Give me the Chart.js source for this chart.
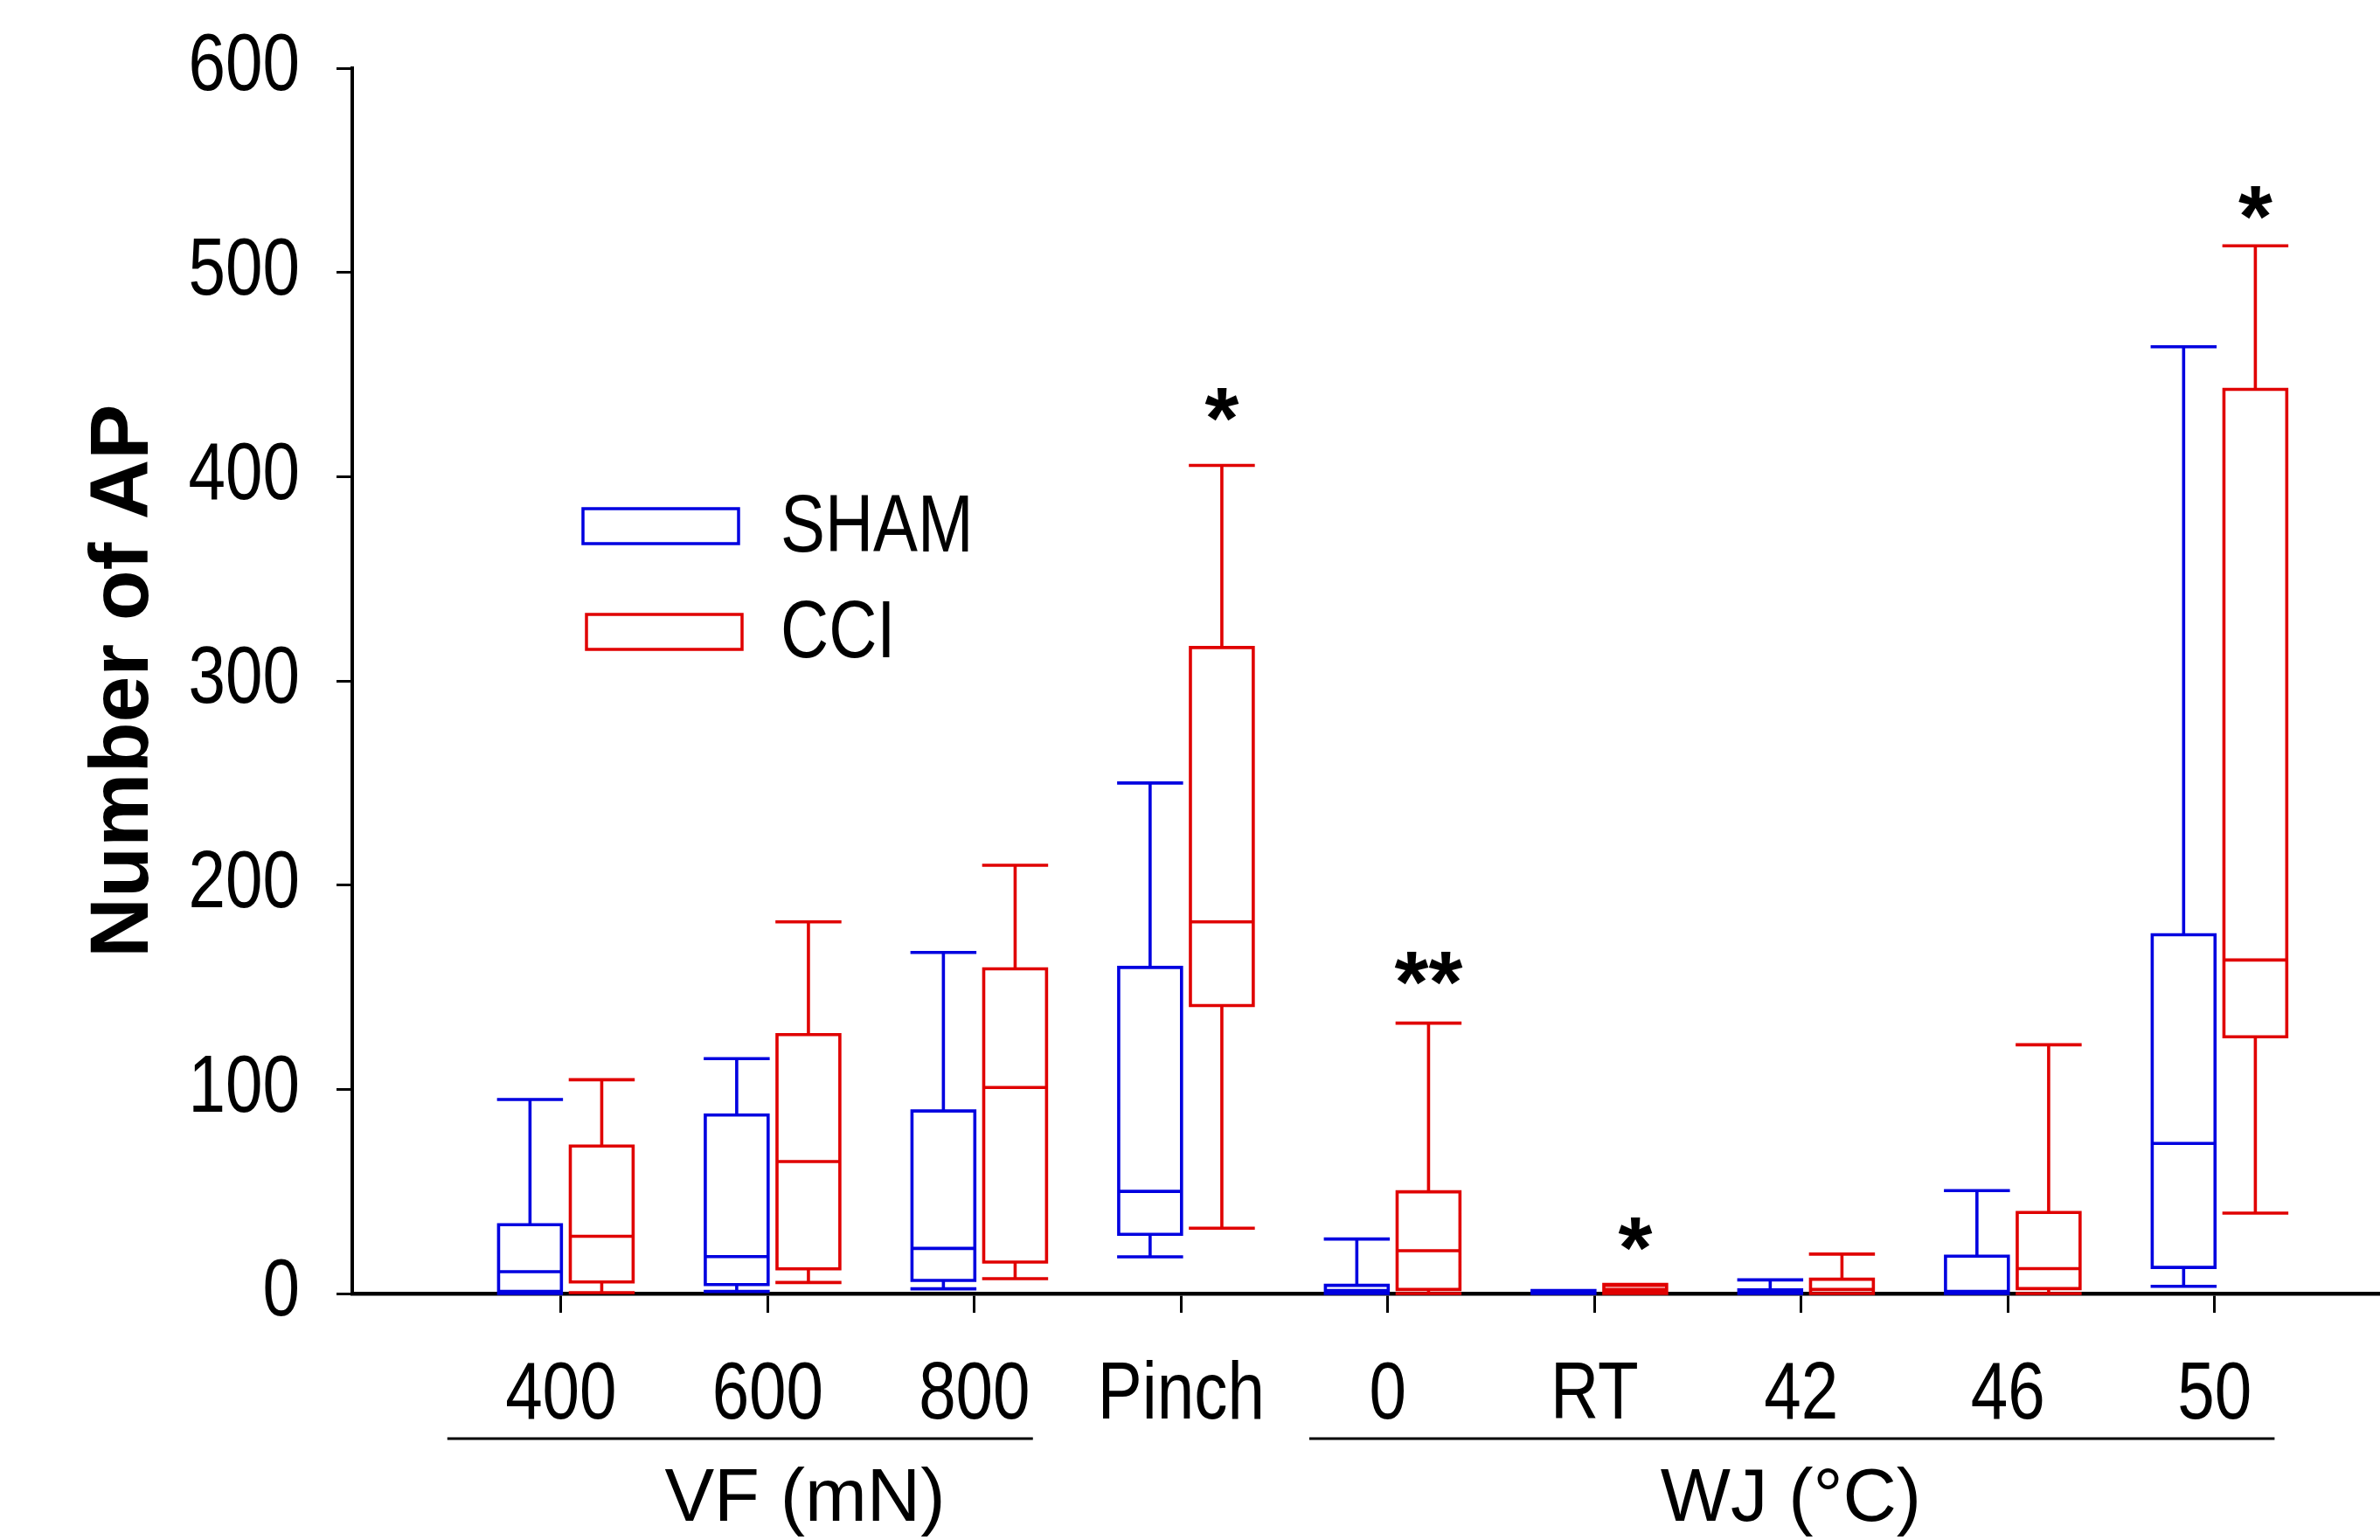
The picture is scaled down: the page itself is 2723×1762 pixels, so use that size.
<!DOCTYPE html>
<html><head><meta charset="utf-8">
<script src="https://cdn.jsdelivr.net/npm/chart.js@4.4.0/dist/chart.umd.min.js"></script>
<style>html,body{margin:0;padding:0;background:#fff;}#wrap{width:2723px;height:1762px;position:relative;}</style>
</head><body><div id="wrap"><canvas id="c" width="2723" height="1762"></canvas></div>
<script>
// ---- data ----
const categories = ['400','600','800','Pinch','0','RT','42','46','50'];
const seriesNames = ['SHAM','CCI'];
const shamMin    = [0,    1,     2.3,  18,    0,    0,   0,   0,    3.5];
const shamQ1     = [1,    4.4,   6.4,  29,    0,    0,   0,   0,    12.8];
const shamMedian = [10.7, 18.1,  22.1, 50,    1.5,  0.5, 1,   1,    73.5];
const shamQ3     = [33.7, 87.4,  89.4, 159.7, 4,    1,   1.8, 18.3, 175.7];
const shamMax    = [95,   115,   167,  250,   26.7, 1.5, 6.7, 50.4, 463.6];
const cciMin     = [0.4,  5.4,   7.3,  32,    0,    0,   0,   0,    39.4];
const cciQ1      = [5.7,  12.1,  15.4, 141,   2,    0.5, 0,   2.4,  125.7];
const cciMedian  = [28,   64.6,  100.9,182,   21,   2,   2,   12.2, 163.3];
const cciQ3      = [72.2, 126.8, 159,  316.3, 49.8, 4,   7,   39.7, 442.7];
const cciMax     = [104.7,182,   209.7,405.5, 132.4,4.5, 19.3,121.8,513];
const sigIndex = [3, 4, 5, 8];
const sigText  = ['*', '**', '*', '*'];
const sigLevel = [434, 158, 28, 533];
const groupNames = ['VF (mN)', 'WJ (\u00B0C)'];
const yTicks = [0, 100, 200, 300, 400, 500, 600];

// ---- styling ----
const BLUE = '#0000e0', RED = '#e00000';
const NARROW = "'Liberation Sans Narrow', 'Liberation Sans', Arial, sans-serif";
const SANS = "'Liberation Sans', Arial, sans-serif";
const HW = 0.152;           // half box width in category units
const OFFS = [-0.150, 0.197];

// emulate a narrow face (Arial Narrow is not installed): squeeze text set in the "Narrow" family
(function () {
  const P = CanvasRenderingContext2D.prototype, orig = P.fillText;
  P.fillText = function (t, x, y, mw) {
    if (String(this.font).indexOf('Narrow') >= 0) {
      const w = this.measureText(t).width * 0.83;
      mw = (mw === undefined || mw === null) ? w : Math.min(mw, w);
    }
    return (mw === undefined || mw === null) ? orig.call(this, t, x, y) : orig.call(this, t, x, y, mw);
  };
})();

function boxPoints(mins, q1s, meds, q3s, maxs, off) {
  const pts = [];
  const gap = (x) => pts.push({x: x, y: null});
  categories.forEach((c, i) => {
    const cx = i + off, l = cx - HW, r = cx + HW;
    pts.push({x:l,y:q1s[i]},{x:r,y:q1s[i]},{x:r,y:q3s[i]},{x:l,y:q3s[i]},{x:l,y:q1s[i]}); gap(l);
    pts.push({x:l,y:meds[i]},{x:r,y:meds[i]}); gap(r);
    pts.push({x:cx,y:q3s[i]},{x:cx,y:maxs[i]}); gap(cx);
    pts.push({x:l,y:maxs[i]},{x:r,y:maxs[i]}); gap(r);
    pts.push({x:cx,y:q1s[i]},{x:cx,y:mins[i]}); gap(cx);
    pts.push({x:l,y:mins[i]},{x:r,y:mins[i]}); gap(r);
  });
  return pts;
}

const datasets = [
  {label: seriesNames[0], data: boxPoints(shamMin, shamQ1, shamMedian, shamQ3, shamMax, OFFS[0]), borderColor: BLUE},
  {label: seriesNames[1], data: boxPoints(cciMin, cciQ1, cciMedian, cciQ3, cciMax, OFFS[1]), borderColor: RED}
].map(d => Object.assign(d, {borderWidth: 3.6, pointRadius: 0, tension: 0, spanGaps: false, fill: false, clip: false, borderJoinStyle: 'miter', borderCapStyle: 'square'}));

const annot = {
  id: 'annot',
  afterDraw(chart) {
    const {ctx} = chart; const x = chart.scales.x, y = chart.scales.y;
    ctx.save();
    ctx.fillStyle = '#000';
    // significance stars
    ctx.font = 'bold 100px ' + SANS; ctx.textAlign = 'center'; ctx.textBaseline = 'alphabetic';
    sigIndex.forEach((i, k) => {
      ctx.fillText(sigText[k], x.getPixelForValue(i + OFFS[1]), y.getPixelForValue(sigLevel[k]) + 47);
    });
    // group lines and labels
    ctx.strokeStyle = '#000'; ctx.lineWidth = 3;
    const groups = [[-0.55, 2.283, 1.18], [3.62, 8.29, 5.95]];
    groups.forEach((g, k) => {
      ctx.beginPath(); ctx.moveTo(x.getPixelForValue(g[0]), 1646); ctx.lineTo(x.getPixelForValue(g[1]), 1646); ctx.stroke();
      ctx.font = '85px ' + SANS; ctx.textAlign = 'center'; ctx.textBaseline = 'alphabetic';
      ctx.fillText(groupNames[k], x.getPixelForValue(g[2]), 1740);
    });
    // legend
    const leg = [[667, 582, BLUE, 606], [671, 703, RED, 727]];
    leg.forEach((L, k) => {
      ctx.strokeStyle = L[2]; ctx.lineWidth = 3.5; ctx.strokeRect(L[0], L[1], 178, 40);
      ctx.fillStyle = '#000'; ctx.font = '92px ' + NARROW; ctx.textAlign = 'left'; ctx.textBaseline = 'middle';
      ctx.fillText(seriesNames[k], 893, L[3]);
    });
    ctx.restore();
  }
};

new Chart(document.getElementById('c'), {
  type: 'line',
  data: {datasets},
  options: {
    responsive: false, animation: false, devicePixelRatio: 1,
    layout: {padding: {top: 78, left: 0, right: 0, bottom: 0}},
    plugins: {legend: {display: false}, tooltip: {enabled: false}},
    scales: {
      x: {
        type: 'linear', min: -1.01, max: 8.8,
        afterBuildTicks: s => { s.ticks = categories.map((_, i) => ({value: i})); },
        afterFit: s => { s.height = 282; s.paddingLeft = 0; s.paddingRight = 0; },
        grid: {drawOnChartArea: false, drawTicks: true, tickLength: 22, tickWidth: 3, tickColor: '#000'},
        border: {display: true, color: '#000', width: 4.5},
        ticks: {callback: v => categories[v] ?? '', autoSkip: false, maxRotation: 0, padding: 40, color: '#000', font: {family: NARROW, size: 92}}
      },
      y: {
        type: 'linear', min: 0, max: 600,
        afterBuildTicks: s => { s.ticks = yTicks.map(v => ({value: v})); },
        afterFit: s => { s.width = 403; s.paddingTop = 0; s.paddingBottom = 0; },
        grid: {drawOnChartArea: false, drawTicks: true, tickLength: 18, tickWidth: 3, tickColor: '#000'},
        border: {display: true, color: '#000', width: 4},
        ticks: {padding: 42, color: '#000', font: {family: NARROW, size: 92}},
        title: {display: true, text: 'Number of AP', color: '#000', font: {family: SANS, weight: 'bold', size: 95}, padding: {top: 86, bottom: 0}}
      }
    }
  },
  plugins: [annot]
});
</script></body></html>
